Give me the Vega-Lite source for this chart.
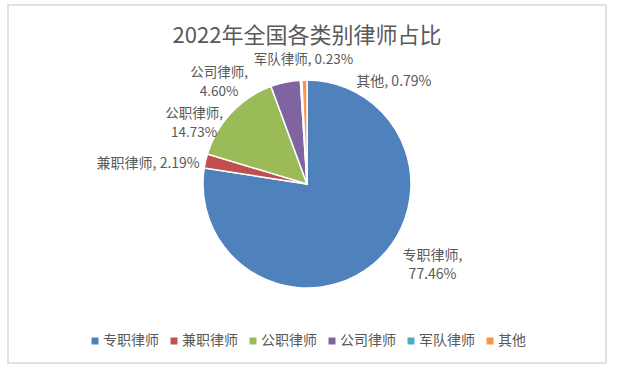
{
  "$schema": "https://vega.github.io/schema/vega-lite/v6.json",
  "width": 598,
  "height": 358,
  "autosize": {"type": "none"},
  "padding": {"left": 8, "top": 5, "right": 12, "bottom": 11},
  "background": "white",
  "view": {"stroke": "#D9D9D9", "strokeWidth": 1.5, "fill": "white"},
  "config": {
    "font": "Noto Sans CJK SC"
  },
  "title": {
    "text": "2022年全国各类别律师占比",
    "fontSize": 22,
    "font": "Noto Sans CJK SC",
    "fontWeight": "normal",
    "color": "#595959",
    "anchor": "middle",
    "frame": "group",
    "offset": -43
  },
  "data": {
    "values": [
      {"i": 1, "name": "专职律师", "pct": 77.46},
      {"i": 2, "name": "兼职律师", "pct": 2.19},
      {"i": 3, "name": "公职律师", "pct": 14.73},
      {"i": 4, "name": "公司律师", "pct": 4.60},
      {"i": 5, "name": "军队律师", "pct": 0.23},
      {"i": 6, "name": "其他", "pct": 0.79}
    ]
  },
  "transform": [
    {"window": [{"op": "sum", "field": "pct", "as": "cum"}], "sort": [{"field": "i"}], "frame": [null, 0]},
    {"calculate": "datum.cum - datum.pct / 2", "as": "mid"},
    {"calculate": "datum.name + ', ' + format(datum.pct, '.2f') + '%'", "as": "l1"},
    {"calculate": "datum.name + ',|' + format(datum.pct, '.2f') + '%'", "as": "l2"}
  ],
  "layer": [
    {
      "mark": {"type": "arc", "outerRadius": 104, "stroke": "white", "strokeWidth": 1.5},
      "encoding": {
        "theta": {"field": "pct", "type": "quantitative", "stack": true, "scale": {"domain": [0, 100]}},
        "order": {"field": "i", "type": "quantitative"},
        "color": {
          "field": "name",
          "type": "nominal",
          "scale": {
            "domain": ["专职律师", "兼职律师", "公职律师", "公司律师", "军队律师", "其他"],
            "range": ["#4F81BD", "#C0504D", "#9BBB59", "#8064A2", "#4BACC6", "#F79646"]
          },
          "legend": {
            "title": null,
            "orient": "none",
            "direction": "horizontal",
            "legendX": 80,
            "legendY": 329,
            "symbolType": "square",
            "symbolSize": 49,
            "symbolStrokeWidth": 0,
            "labelFontSize": 14,
            "labelFont": "Noto Sans CJK SC",
            "labelColor": "#595959",
            "labelOffset": 1,
            "columnPadding": 8,
            "padding": 0
          }
        }
      }
    },
    {
      "transform": [{"filter": "datum.name == '专职律师'"}],
      "mark": {"type": "text", "radius": 130, "dx": 41, "dy": -27, "align": "center", "baseline": "middle", "lineBreak": "|", "lineHeight": 19, "fontSize": 14, "color": "#595959"},
      "encoding": {
        "theta": {"field": "mid", "type": "quantitative", "stack": false, "scale": {"domain": [0, 100]}},
        "text": {"field": "l2"}
      }
    },
    {
      "transform": [{"filter": "datum.name == '兼职律师'"}],
      "mark": {"type": "text", "radius": 110, "dx": 0, "dy": 4, "align": "right", "baseline": "middle", "fontSize": 14, "color": "#595959"},
      "encoding": {
        "theta": {"field": "mid", "type": "quantitative", "stack": false, "scale": {"domain": [0, 100]}},
        "text": {"field": "l1"}
      }
    },
    {
      "transform": [{"filter": "datum.name == '公职律师'"}],
      "mark": {"type": "text", "radius": 140, "dx": -11, "dy": 26, "align": "center", "baseline": "middle", "lineBreak": "|", "lineHeight": 19, "fontSize": 13.5, "color": "#595959"},
      "encoding": {
        "theta": {"field": "mid", "type": "quantitative", "stack": false, "scale": {"domain": [0, 100]}},
        "text": {"field": "l2"}
      }
    },
    {
      "transform": [{"filter": "datum.name == '公司律师'"}],
      "mark": {"type": "text", "radius": 130, "dx": -61, "dy": 16, "align": "center", "baseline": "middle", "lineBreak": "|", "lineHeight": 19, "fontSize": 13.5, "color": "#595959"},
      "encoding": {
        "theta": {"field": "mid", "type": "quantitative", "stack": false, "scale": {"domain": [0, 100]}},
        "text": {"field": "l2"}
      }
    },
    {
      "transform": [{"filter": "datum.name == '军队律师'"}],
      "mark": {"type": "text", "radius": 131, "dx": 4, "dy": 7, "align": "center", "baseline": "middle", "fontSize": 13.5, "color": "#595959"},
      "encoding": {
        "theta": {"field": "mid", "type": "quantitative", "stack": false, "scale": {"domain": [0, 100]}},
        "text": {"field": "l1"}
      }
    },
    {
      "transform": [{"filter": "datum.name == '其他'"}],
      "mark": {"type": "text", "radius": 107, "dx": 52, "dy": 5, "align": "left", "baseline": "middle", "fontSize": 14, "color": "#595959"},
      "encoding": {
        "theta": {"field": "mid", "type": "quantitative", "stack": false, "scale": {"domain": [0, 100]}},
        "text": {"field": "l1"}
      }
    }
  ]
}
